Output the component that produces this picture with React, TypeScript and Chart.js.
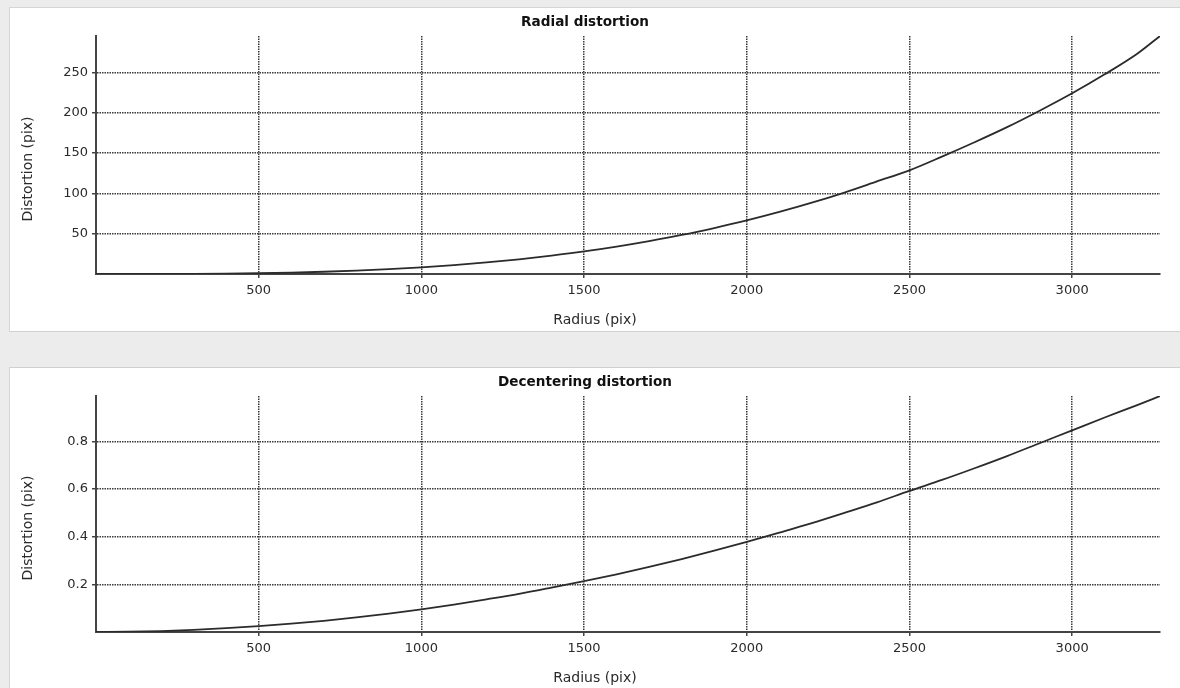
import React, { useEffect, useRef } from "react";
import { Chart, registerables } from "chart.js";

Chart.register(...registerables);

const radii = [0, 100, 200, 300, 400, 500, 600, 700, 800, 900, 1000, 1100, 1200, 1300, 1400, 1500, 1600, 1700, 1800, 1900, 2000, 2100, 2200, 2300, 2400, 2500, 2600, 2700, 2800, 2900, 3000, 3100, 3200, 3270];
const radialDist = [0, 0.01, 0.07, 0.22, 0.5, 1.0, 1.8, 2.8, 4.2, 6.0, 8.3, 11, 14.3, 18.2, 22.8, 28, 34, 40.8, 48.4, 57, 66.4, 76.9, 88.4, 101, 114.7, 128.5, 145.5, 163.3, 182, 202.4, 224, 247.5, 273, 295];
const decenteringDist = [0, 0.001, 0.004, 0.009, 0.016, 0.025, 0.035, 0.047, 0.061, 0.077, 0.095, 0.115, 0.137, 0.16, 0.186, 0.213, 0.242, 0.273, 0.306, 0.341, 0.378, 0.417, 0.457, 0.5, 0.544, 0.592, 0.638, 0.687, 0.738, 0.792, 0.846, 0.9, 0.952, 0.99];

const xTickValues = [500, 1000, 1500, 2000, 2500, 3000];
const radialTickValues = [50, 100, 150, 200, 250];
const decenteringTickValues = [0.2, 0.4, 0.6, 0.8];
const xMax = 3270;

const FONT = "'DejaVu Sans', Verdana, sans-serif";

function makeTitlesPlugin(xTitle: string, yTitle: string, xTitleY: number) {
  return {
    id: "axisTitles",
    afterDraw(chart: any) {
      const ctx = chart.ctx;
      ctx.save();
      ctx.font = `14px ${FONT}`;
      ctx.fillStyle = "#2a2a2a";
      ctx.textAlign = "center";
      ctx.textBaseline = "middle";
      ctx.fillText(xTitle, chart.width / 2, xTitleY);
      ctx.translate(18, chart.height / 2);
      ctx.rotate(-Math.PI / 2);
      ctx.fillText(yTitle, 0, 0);
      ctx.restore();
    },
  };
}

function DistChart(props: { title: string; values: number[]; yMax: number; yTicks: number[]; height: number }) {
  const ref = useRef<HTMLCanvasElement>(null);
  useEffect(() => {
    if (!ref.current) return;
    const pts = radii.map((r, i) => ({ x: r, y: props.values[i] }));
    const grid = { color: "#3a3a3a", lineWidth: 1.5, tickColor: "#444", tickWidth: 1.5, drawTicks: true };
    const border = { display: true, color: "#444", width: 2, dash: [1.5, 1] };
    const chart = new Chart(ref.current, {
      type: "line",
      data: {
        datasets: [
          {
            data: pts,
            borderColor: "#2b2b2b",
            borderWidth: 1.8,
            pointRadius: 0,
            tension: 0.3,
            cubicInterpolationMode: "monotone",
            fill: false,
          },
        ],
      },
      options: {
        animation: false,
        responsive: false,
        maintainAspectRatio: false,
        layout: { padding: { left: 0, right: 20, top: 0, bottom: 0 } },
        plugins: {
          legend: { display: false },
          tooltip: { enabled: false },
          title: {
            display: true,
            text: props.title,
            color: "#111",
            font: { family: FONT, size: 13.6, weight: "bold" },
            padding: { top: 6.8, bottom: 4.9 },
          },
        },
        scales: {
          x: {
            type: "linear",
            min: 0,
            max: xMax,
            ticks: {
              color: "#2a2a2a",
              font: { family: FONT, size: 13 },
              padding: 5,
              maxRotation: 0,
              autoSkip: false,
              callback: (v: any) => String(v),
            },
            afterBuildTicks: (s: any) => {
              s.ticks = xTickValues.map((v) => ({ value: v }));
            },
            afterFit: (s: any) => {
              s.height = 56;
            },
            grid: { ...grid, tickLength: 4 },
            border,
          },
          y: {
            type: "linear",
            min: 0,
            max: props.yMax,
            ticks: {
              color: "#2a2a2a",
              font: { family: FONT, size: 13 },
              padding: 4,
              autoSkip: false,
              callback: (v: any) => String(v),
            },
            afterBuildTicks: (s: any) => {
              s.ticks = props.yTicks.map((v) => ({ value: v }));
            },
            afterFit: (s: any) => {
              s.width = 86;
            },
            grid: { ...grid, tickLength: 4 },
            border,
          },
        },
      },
      plugins: [makeTitlesPlugin("Radius (pix)", "Distortion (pix)", props.height - 10)],
    } as any);
    return () => chart.destroy();
  }, []);
  return <canvas ref={ref} width={1170} height={props.height} style={{ display: "block", width: 1170, height: props.height }} />;
}

export default function App() {
  useEffect(() => {
    document.body.style.margin = "0";
  }, []);
  return (
    <div style={{ position: "fixed", left: 0, top: 0, width: 1180, height: 688, background: "#ececec", overflow: "hidden" }}>
      <div style={{ position: "absolute", left: 9, top: 7, width: 1171, height: 323, background: "#fff", borderTop: "1px solid #d6d6d6", borderLeft: "1px solid #d6d6d6", borderBottom: "1px solid #d0d0d0" }}>
        <DistChart title="Radial distortion" values={radialDist} yMax={295} yTicks={radialTickValues} height={322} />
      </div>
      <div style={{ position: "absolute", left: 9, top: 367, width: 1171, height: 321, background: "#fff", borderTop: "1px solid #d0d0d0", borderLeft: "1px solid #d6d6d6" }}>
        <DistChart title="Decentering distortion" values={decenteringDist} yMax={0.99} yTicks={decenteringTickValues} height={320} />
      </div>
    </div>
  );
}
